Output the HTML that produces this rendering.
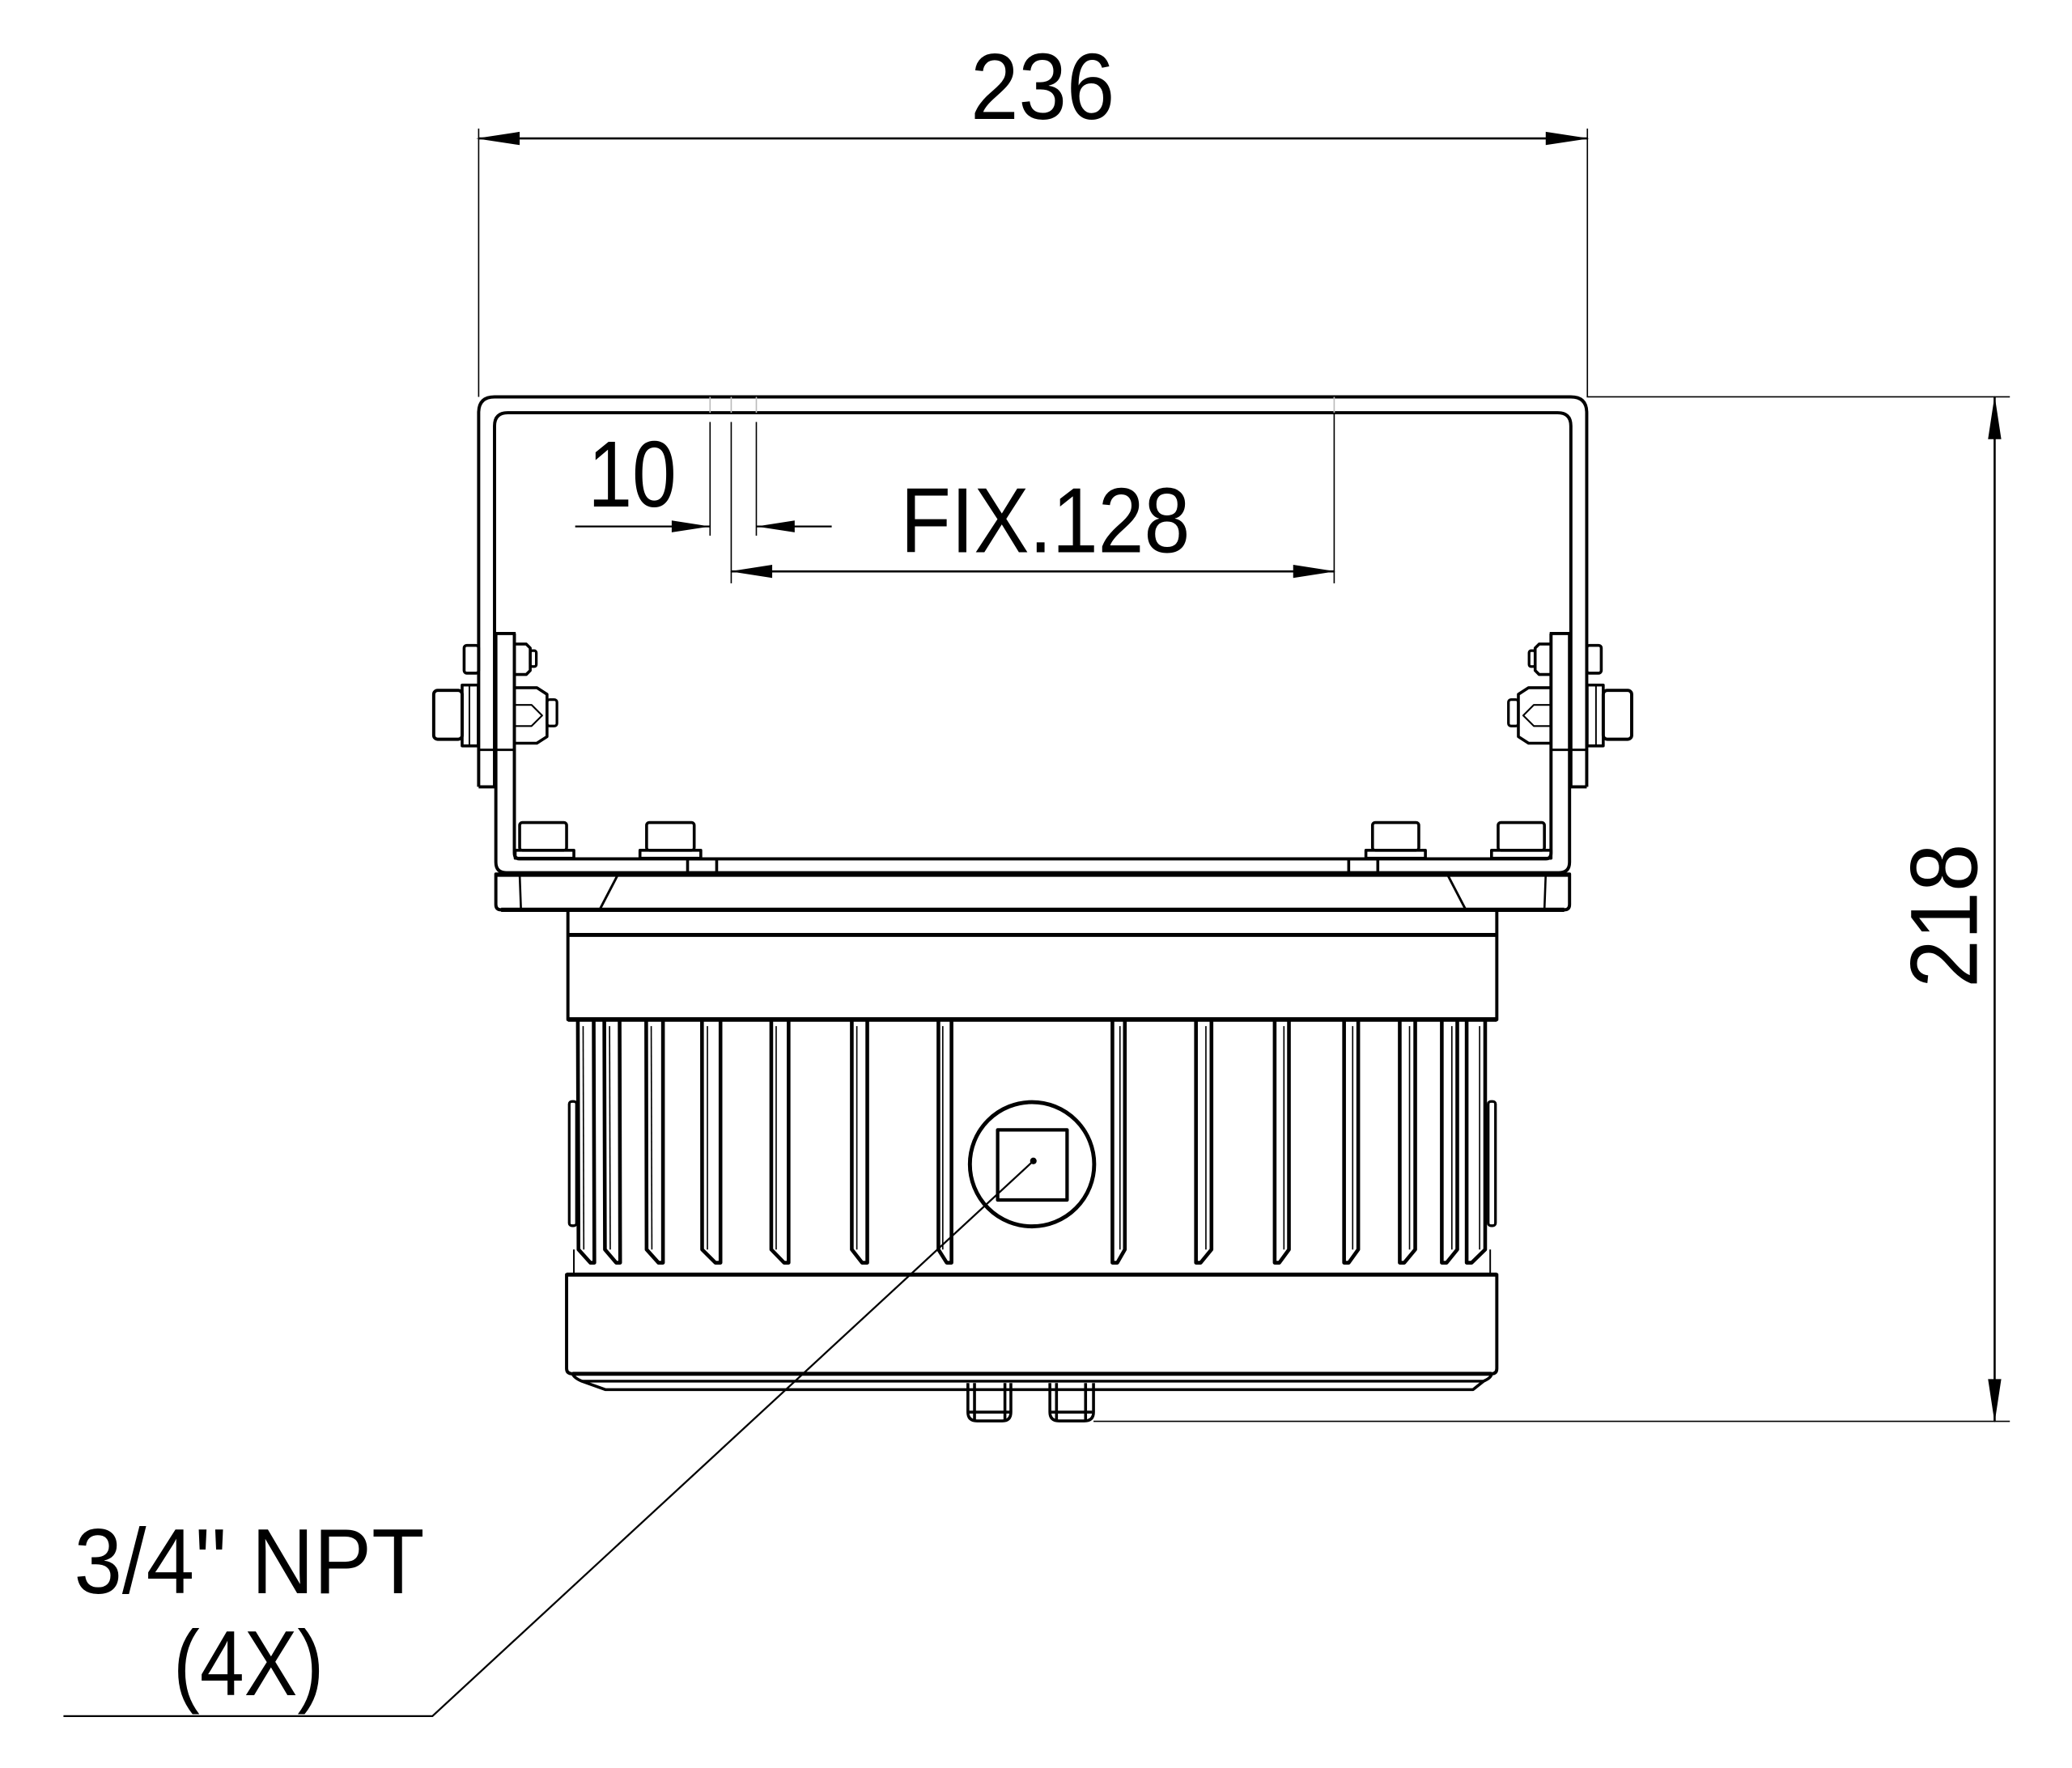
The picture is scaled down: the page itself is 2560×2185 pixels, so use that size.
<!DOCTYPE html>
<html><head><meta charset="utf-8">
<style>
html,body{margin:0;padding:0;background:#fff;}
svg{display:block;}
text{font-family:"Liberation Sans",sans-serif;fill:#000;}
</style></head>
<body>
<svg width="2560" height="2185" viewBox="0 0 1567 1337" xmlns="http://www.w3.org/2000/svg">
<rect width="1567" height="1337" fill="#fff"/>
<g fill="none" stroke="#000" stroke-width="1.6" stroke-linejoin="round">

<!-- 236 dimension -->
<line x1="362" y1="97" x2="362" y2="300" stroke-width="1"/>
<line x1="1200.5" y1="97" x2="1200.5" y2="300" stroke-width="1"/>
<line x1="362" y1="104.5" x2="1200.5" y2="104.5"/>
<polygon points="360,104.5 393,99.5 393,109.5" fill="#000" stroke="none"/>
<polygon points="1202,104.5 1169,99.5 1169,109.5" fill="#000" stroke="none"/>

<!-- 218 dimension -->
<line x1="1200" y1="300" x2="1520" y2="300" stroke-width="1"/>
<line x1="827" y1="1075" x2="1520" y2="1075" stroke-width="1"/>
<line x1="1508.5" y1="300" x2="1508.5" y2="1075"/>
<polygon points="1508.5,299 1503.5,332 1513.5,332" fill="#000" stroke="none"/>
<polygon points="1508.5,1076 1503.5,1043 1513.5,1043" fill="#000" stroke="none"/>

<!-- bracket U -->
<path d="M362,595 L362,312 Q362,300 374,300 L1188,300 Q1200,300 1200,312 L1200,595" stroke-width="2.4"/>
<path d="M374,595 L374,322 Q374,312 384,312 L1178,312 Q1188,312 1188,322 L1188,595" stroke-width="2.4"/>
<path d="M375,479 L375,652 Q375,660 383,660 L1179,660 Q1187,660 1187,652 L1187,479" stroke-width="2.4"/>
<path d="M389,479 L389,645 Q389,649.5 393,649.5 L1169,649.5 Q1173,649.5 1173,645 L1173,479" stroke-width="2.4"/>
<line x1="374" y1="479" x2="390" y2="479" stroke-width="2.4"/>
<line x1="1172" y1="479" x2="1188" y2="479" stroke-width="2.4"/>
<line x1="362" y1="595" x2="375" y2="595" stroke-width="2.4"/>
<line x1="1187" y1="595" x2="1200" y2="595" stroke-width="2.4"/>
<line x1="362" y1="567" x2="390" y2="567" stroke-width="1.8"/>
<line x1="1172" y1="567" x2="1200" y2="567" stroke-width="1.8"/>

<!-- left hinge bolts -->
<rect x="351" y="488" width="11" height="21" rx="2" stroke-width="2.2"/>
<path d="M390,487 L398,487 L401,490 L401,507 L398,510 L390,510" stroke-width="2.2"/>
<rect x="401" y="492" width="4.6" height="12" rx="1.5" stroke-width="2"/>
<rect x="328" y="522" width="21.5" height="37" rx="3" stroke-width="2.4"/>
<rect x="349.5" y="518" width="12.2" height="46" stroke-width="2.2"/>
<line x1="355" y1="518" x2="355" y2="564" stroke-width="1.2"/>
<path d="M390,520 L406,520 L413.7,525 L413.7,557 L406,562 L390,562" stroke-width="2.2"/>
<path d="M390,533 L402,533 L410,541 L402,549 L390,549" stroke-width="1.3"/>
<rect x="413.7" y="529" width="7.5" height="20" rx="2" stroke-width="2"/>

<g transform="translate(1562,0) scale(-1,1)">
<rect x="351" y="488" width="11" height="21" rx="2" stroke-width="2.2"/>
<path d="M390,487 L398,487 L401,490 L401,507 L398,510 L390,510" stroke-width="2.2"/>
<rect x="401" y="492" width="4.6" height="12" rx="1.5" stroke-width="2"/>
<rect x="328" y="522" width="21.5" height="37" rx="3" stroke-width="2.4"/>
<rect x="349.5" y="518" width="12.2" height="46" stroke-width="2.2"/>
<line x1="355" y1="518" x2="355" y2="564" stroke-width="1.2"/>
<path d="M390,520 L406,520 L413.7,525 L413.7,557 L406,562 L390,562" stroke-width="2.2"/>
<path d="M390,533 L402,533 L410,541 L402,549 L390,549" stroke-width="1.3"/>
<rect x="413.7" y="529" width="7.5" height="20" rx="2" stroke-width="2"/>
</g>

<!-- base bolts -->
<g stroke-width="2.2">
<rect x="393" y="622" width="35.5" height="21" rx="2"/>
<rect x="389.6" y="643" width="44.4" height="6"/>
<rect x="489" y="622" width="36" height="21" rx="2"/>
<rect x="484" y="643" width="46" height="6"/>
<rect x="520" y="649.5" width="22" height="10.5"/>
<rect x="1038" y="622" width="35" height="21" rx="2"/>
<rect x="1033" y="643" width="45" height="6"/>
<rect x="1020" y="649.5" width="22" height="10.5"/>
<rect x="1133" y="622" width="35" height="21" rx="2"/>
<rect x="1128" y="643" width="45" height="6"/>
</g>

<!-- flange -->
<path d="M375,661 L1187,661 L1187,684 Q1187,688 1183,688 L379,688 Q375,688 375,684 Z" stroke-width="2.4"/>
<line x1="375" y1="661.5" x2="1187" y2="661.5" stroke-width="3.2"/>
<line x1="379" y1="688" x2="1183" y2="688" stroke-width="3.2"/>
<line x1="393" y1="661" x2="394" y2="688" stroke-width="1.6"/>
<line x1="1169" y1="661" x2="1168" y2="688" stroke-width="1.6"/>
<line x1="467" y1="662" x2="454" y2="687" stroke-width="1.8"/>
<line x1="1095" y1="662" x2="1108" y2="687" stroke-width="1.8"/>

<!-- body upper band -->
<path d="M429.5,688 L429.5,771 L1132,771 L1132,688" stroke-width="2.4"/>
<line x1="429.5" y1="707" x2="1132" y2="707" stroke-width="3"/>
<line x1="429.5" y1="771" x2="1132" y2="771" stroke-width="3.4"/>

<rect x="430.5" y="833" width="5.5" height="94" rx="2" stroke-width="2"/>
<rect x="1125.5" y="833" width="5.5" height="94" rx="2" stroke-width="2"/>

<g stroke-width="2.8">
<path d="M437,771 L437.5,945 L446.5,955 L449.5,955 L449,771"/>
<path d="M457,771 L457.5,945 L466,955 L469,955 L468.6,771"/>
<path d="M488.7,771 L489,945 L498,955 L501.4,955 L501.4,771"/>
<path d="M530.9,771 L531,945 L541,955 L544.9,955 L544.9,771"/>
<path d="M583.3,771 L583.3,945 L593,955 L596.4,955 L596.4,771"/>
<path d="M644.2,771 L644.2,945 L652,955 L655.9,955 L655.9,771"/>
<path d="M709.7,771 L709.7,945 L716,955 L719.6,955 L719.6,771"/>
</g>
<g stroke-width="2.8">
<path d="M841.3,771 L841.3,955 L845,955 L850.7,945 L850.7,771"/>
<path d="M904.5,771 L904.5,955 L908,955 L916.2,945 L916.2,771"/>
<path d="M964,771 L964,955 L967.5,955 L974.8,945 L974.8,771"/>
<path d="M1016.5,771 L1016.5,955 L1020,955 L1027.2,945 L1027.2,771"/>
<path d="M1058.6,771 L1058.6,955 L1062,955 L1070.3,945 L1070.3,771"/>
<path d="M1090.4,771 L1090.4,955 L1094,955 L1102.1,945 L1102.1,771"/>
<path d="M1109.2,771 L1109.2,955 L1113,955 L1123.2,945 L1123.2,771"/>
</g>
<g stroke-width="1">
<line x1="441" y1="776" x2="441.5" y2="945"/><line x1="461" y1="776" x2="461.5" y2="945"/>
<line x1="492.5" y1="776" x2="493" y2="945"/><line x1="535" y1="776" x2="535" y2="945"/>
<line x1="587" y1="776" x2="587" y2="945"/><line x1="648" y1="776" x2="648" y2="945"/>
<line x1="713" y1="776" x2="713" y2="945"/><line x1="847" y1="776" x2="847" y2="945"/>
<line x1="912" y1="776" x2="912" y2="945"/><line x1="971" y1="776" x2="971" y2="945"/>
<line x1="1023" y1="776" x2="1023" y2="945"/><line x1="1066" y1="776" x2="1066" y2="945"/>
<line x1="1098" y1="776" x2="1098" y2="945"/><line x1="1119" y1="776" x2="1119" y2="945"/>
</g>
<line x1="434" y1="945" x2="434" y2="964" stroke-width="1.2"/>
<line x1="1127" y1="945" x2="1127" y2="964" stroke-width="1.2"/>

<circle cx="780.5" cy="880.5" r="47" stroke-width="3"/>
<rect x="754.5" y="854.5" width="52.5" height="53" stroke-width="2.6"/>
<circle cx="781.5" cy="878" r="2.5" fill="#000" stroke="none"/>

<path d="M428.5,964 L1132,964 L1132,1035 Q1132,1039 1128,1039 L433,1039 Q428.5,1039 428.5,1035 Z" stroke-width="2.4"/>
<line x1="428.5" y1="964" x2="1132" y2="964" stroke-width="3"/>
<line x1="433" y1="1039" x2="1128" y2="1039" stroke-width="3"/>
<path d="M433,1039 Q434,1042 440,1044.6 L458,1051 L1114,1051 L1122,1044.6 Q1128,1042 1128,1039" stroke-width="2.2"/>
<line x1="440" y1="1044.6" x2="1122" y2="1044.6" stroke-width="2"/>

<g stroke-width="2.2">
<path d="M732,1046 L732,1068 Q732,1074.7 739,1074.7 L758,1074.7 Q764.5,1074.7 764.5,1068 L764.5,1046"/>
<line x1="737" y1="1046" x2="737" y2="1074"/><line x1="760" y1="1046" x2="760" y2="1074"/>
<line x1="733" y1="1068" x2="764" y2="1068"/>
<path d="M794,1046 L794,1068 Q794,1074.7 801,1074.7 L820,1074.7 Q827,1074.7 827,1068 L827,1046"/>
<line x1="799" y1="1046" x2="799" y2="1074"/><line x1="821" y1="1046" x2="821" y2="1074"/>
<line x1="795" y1="1068" x2="826" y2="1068"/>
</g>

<!-- leader -->
<polyline points="781.5,878 327,1298 48,1298" stroke-width="1.4"/>

<g stroke-width="1">
<line x1="537" y1="300" x2="537" y2="312" stroke="#bbb"/>
<line x1="553" y1="300" x2="553" y2="312" stroke="#bbb"/>
<line x1="572" y1="300" x2="572" y2="312" stroke="#bbb"/>
<line x1="1009" y1="300" x2="1009" y2="312" stroke="#bbb"/>
<line x1="537" y1="319" x2="537" y2="405"/>
<line x1="572" y1="319" x2="572" y2="405"/>
<line x1="553" y1="319" x2="553" y2="441"/>
<line x1="1009" y1="312" x2="1009" y2="441"/>
</g>
<line x1="553" y1="432" x2="1009" y2="432" stroke-width="1.6"/>
<polygon points="552,432 584,427 584,437" fill="#000" stroke="none"/>
<polygon points="1010,432 978,427 978,437" fill="#000" stroke="none"/>
<line x1="435" y1="398" x2="537" y2="398" stroke-width="1.4"/>
<line x1="572" y1="398" x2="629" y2="398" stroke-width="1.4"/>
<polygon points="537,398 508,393.5 508,402.5" fill="#000" stroke="none"/>
<polygon points="572,398 601,393.5 601,402.5" fill="#000" stroke="none"/>
</g>

<text x="734" y="89.8" font-size="71" textLength="109" lengthAdjust="spacingAndGlyphs">236</text>
<text x="681" y="417.5" font-size="70" textLength="219" lengthAdjust="spacingAndGlyphs">FIX.128</text>
<text x="444.6" y="383" font-size="71" textLength="67" lengthAdjust="spacingAndGlyphs">10</text>
<text transform="translate(1495,747) rotate(-90)" font-size="72" textLength="109" lengthAdjust="spacingAndGlyphs">218</text>
<text x="56" y="1205" font-size="70" textLength="265" lengthAdjust="spacingAndGlyphs">3/4'' NPT</text>
<text x="131" y="1282" font-size="70" textLength="114" lengthAdjust="spacingAndGlyphs">(4X)</text>
</svg>
</body></html>
